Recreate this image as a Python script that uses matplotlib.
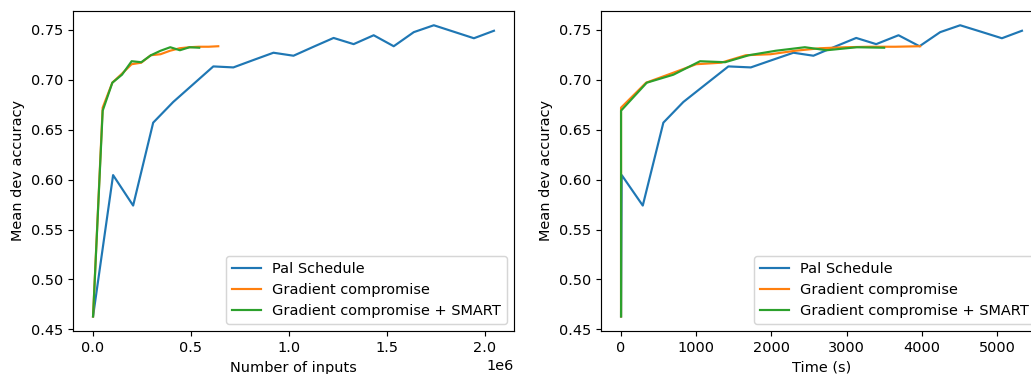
import matplotlib
matplotlib.use("Agg")
import matplotlib.pyplot as plt
import numpy as np

# ---- data ----
pal_inputs = [k * 102400 for k in range(21)]
pal_time = [0, 9, 289, 563, 829, 1128, 1428, 1726, 2010, 2293, 2559,
            2843, 3128, 3394, 3691, 3970, 4245, 4511, 4790, 5066, 5333]
pal_acc = [0.463, 0.6045, 0.574, 0.657, 0.6777, 0.6955, 0.7133, 0.7123,
           0.7197, 0.7270, 0.7240, 0.7330, 0.7418, 0.7356, 0.7445, 0.7335,
           0.7476, 0.7545, 0.7480, 0.7415, 0.7490]

gc_inputs = [k * 49200 for k in range(14)]
gc_time = [0, 0, 333, 660, 1000, 1330, 1660, 1990, 2320, 2650, 2985, 3315, 3650, 3979]
gc_acc = [0.463, 0.672, 0.697, 0.706, 0.7155, 0.717, 0.7245, 0.7255,
          0.729, 0.7315, 0.7325, 0.733, 0.733, 0.7335]

gcs_inputs = [k * 49300 for k in range(12)]
gcs_time = [0, 0, 342, 696, 1051, 1384, 1700, 2060, 2445, 2737, 3136, 3500]
gcs_acc = [0.463, 0.669, 0.697, 0.705, 0.7185, 0.7175, 0.7245, 0.729,
           0.7325, 0.7295, 0.7325, 0.732]

labels = ["Pal Schedule", "Gradient compromise", "Gradient compromise + SMART"]

DPI = 104
W, H = 1031, 374
fig = plt.figure(figsize=(W / DPI, H / DPI), dpi=DPI)
ax1 = fig.add_axes([73 / W, (H - 331) / H, 441 / W, 320.3 / H])
ax2 = fig.add_axes([601 / W, (H - 331) / H, 441 / W, 320.3 / H])

ax1.plot(pal_inputs, pal_acc, label=labels[0])
ax1.plot(gc_inputs, gc_acc, label=labels[1])
ax1.plot(gcs_inputs, gcs_acc, label=labels[2])
ax1.set_xlabel("Number of inputs")
ax1.set_ylabel("Mean dev accuracy")
ax1.legend(loc="lower right")

ax2.plot(pal_time, pal_acc, label=labels[0])
ax2.plot(gc_time, gc_acc, label=labels[1])
ax2.plot(gcs_time, gcs_acc, label=labels[2])
ax2.set_xlabel("Time (s)")
ax2.set_ylabel("Mean dev accuracy")
ax2.legend(loc="lower right")

for ax in (ax1, ax2):
    ax.set_yticks(np.arange(0.45, 0.751, 0.05))

fig.savefig("out.png", dpi=DPI)
